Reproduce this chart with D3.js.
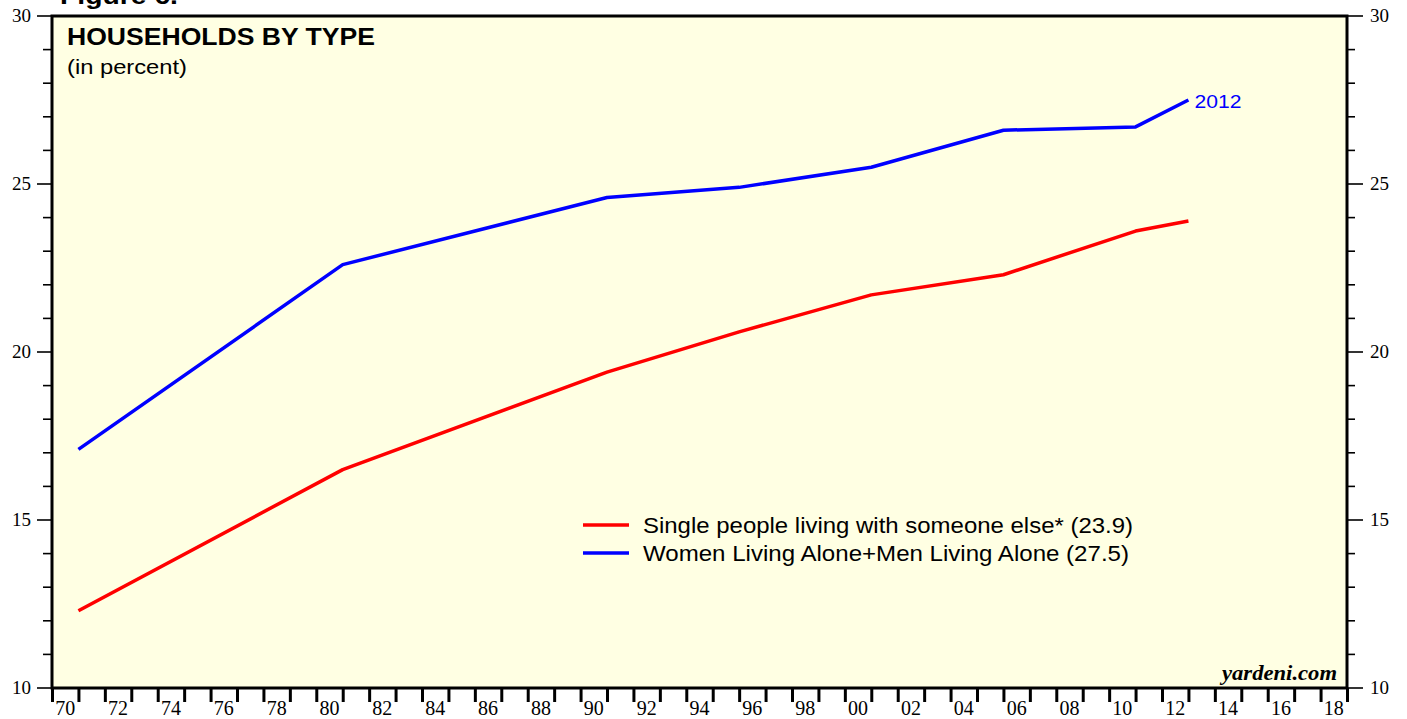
<!DOCTYPE html>
<html>
  <head>
    <meta charset="utf-8">
    <title>Households by Type</title>
    <script src="https://d3js.org/d3.v7.min.js"></script>
    <style>
      body { margin: 0; background: #fff; }
    </style>
  </head>
  <body>
    <div id="my_dataviz"></div>
    <script>
      // data (census years), values in percent
      var years = [1970, 1980, 1990, 1995, 2000, 2005, 2010, 2012];
      var singleWithOthers = [12.3, 16.5, 19.4, 20.6, 21.7, 22.3, 23.6, 23.9];
      var livingAlone = [17.1, 22.6, 24.6, 24.9, 25.5, 26.6, 26.7, 27.5];
      var yTicks = [10, 15, 20, 25, 30];
      var seriesNames = ["Single people living with someone else* (23.9)",
                         "Women Living Alone+Men Living Alone (27.5)"];
      var seriesColors = ["#ff0000", "#0000ff"];

      var W = 1407, H = 719;
      var plot = {left: 52, right: 1347, top: 16, bottom: 688};
      var sans = "Arial, 'Liberation Sans', sans-serif";
      var serif = "'Liberation Serif', 'Times New Roman', serif";

      var svg = d3.select("#my_dataviz")
        .append("svg")
        .attr("width", W)
        .attr("height", H);

      // year axis runs 1970..2019, annual data plotted at year-end
      var x = d3.scaleLinear().domain([1970, 2019]).range([plot.left, plot.right]);
      var y = d3.scaleLinear().domain([10, 30]).range([plot.bottom, plot.top]);

      // plot background
      svg.append("rect")
        .attr("x", plot.left).attr("y", plot.top)
        .attr("width", plot.right - plot.left).attr("height", plot.bottom - plot.top)
        .attr("fill", "#ffffe3");

      // sans text in the original is a bit wider than Arial, so stretch to width
      function sansText(tx, ty, size, weight, len, str, color) {
        return svg.append("text")
          .attr("x", tx).attr("y", ty)
          .attr("textLength", len)
          .attr("lengthAdjust", "spacingAndGlyphs")
          .attr("fill", color || "#000")
          .style("font-family", sans)
          .style("font-weight", weight)
          .style("font-size", size + "px")
          .text(str);
      }

      // cut-off figure caption at the very top
      sansText(60, 4, 23, "bold", 118, "Figure 6.");

      // left / right y axes: minor tick every 1, major every 5
      var minorY = d3.range(10, 30.01, 1);
      svg.append("g").selectAll("line")
        .data(minorY).enter().append("line")
        .attr("x1", function(d) { return d % 5 === 0 ? plot.left - 15 : plot.left - 9; })
        .attr("x2", plot.left)
        .attr("y1", function(d) { return y(d); })
        .attr("y2", function(d) { return y(d); })
        .attr("stroke", "#000").attr("stroke-width", 1.6);
      svg.append("g").selectAll("text")
        .data(yTicks).enter().append("text")
        .attr("x", 31)
        .attr("y", function(d) { return y(d) + 6; })
        .attr("text-anchor", "end")
        .style("font-family", serif)
        .style("font-size", "19px")
        .text(function(d) { return d; });

      svg.append("g").selectAll("line")
        .data(minorY).enter().append("line")
        .attr("x1", plot.right)
        .attr("x2", function(d) { return d % 5 === 0 ? plot.right + 16 : plot.right + 8; })
        .attr("y1", function(d) { return y(d); })
        .attr("y2", function(d) { return y(d); })
        .attr("stroke", "#000").attr("stroke-width", 1.6);
      svg.append("g").selectAll("text")
        .data(yTicks).enter().append("text")
        .attr("x", plot.right + 23)
        .attr("y", function(d) { return y(d) + 6; })
        .style("font-family", serif)
        .style("font-size", "19px")
        .text(function(d) { return d; });

      // bottom x axis: a tick every year, label every other year
      var xAxis = d3.axisBottom(x)
        .tickValues(d3.range(1970, 2019.5, 1))
        .tickSize(14)
        .tickFormat("");
      var gx = svg.append("g")
        .attr("transform", "translate(0," + plot.bottom + ")")
        .call(xAxis);
      gx.select(".domain").remove();
      gx.selectAll(".tick line").attr("stroke", "#000").attr("stroke-width", 3);

      var labelYears = d3.range(1970, 2019, 2);
      svg.append("g").selectAll("text")
        .data(labelYears).enter().append("text")
        .attr("x", function(d) { return x(d + 0.5); })
        .attr("y", 715)
        .attr("text-anchor", "middle")
        .style("font-family", serif)
        .style("font-size", "20px")
        .text(function(d) { return String(d % 100).padStart(2, "0"); });

      // lines
      var series = [singleWithOthers, livingAlone];
      var line = d3.line()
        .x(function(d, i) { return x(years[i] + 1); })
        .y(function(d) { return y(d); });

      series.forEach(function(vals, k) {
        svg.append("path")
          .datum(vals)
          .attr("d", line)
          .attr("fill", "none")
          .attr("stroke", seriesColors[k])
          .attr("stroke-width", 3.5)
          .attr("stroke-linejoin", "round");
      });

      // end label
      var last = years.length - 1;
      sansText(x(years[last] + 1) + 6, y(livingAlone[last]) + 8, 19, "normal", 47,
               String(years[last]), "#0000ff");

      // frame
      svg.append("rect")
        .attr("x", plot.left).attr("y", plot.top)
        .attr("width", plot.right - plot.left).attr("height", plot.bottom - plot.top)
        .attr("fill", "none")
        .attr("stroke", "#000")
        .attr("stroke-width", 3);

      // title
      sansText(67, 45, 23, "bold", 308, "HOUSEHOLDS BY TYPE");
      sansText(67, 74, 21, "normal", 120, "(in percent)");

      // legend
      var legendLens = [490, 486];
      seriesNames.forEach(function(name, k) {
        var ly = 525 + k * 28;
        svg.append("line")
          .attr("x1", 583).attr("x2", 629)
          .attr("y1", ly).attr("y2", ly)
          .attr("stroke", seriesColors[k])
          .attr("stroke-width", 3.5);
        sansText(643, ly + 8, 22, "normal", legendLens[k], name);
      });

      // watermark
      svg.append("text")
        .attr("x", 1337).attr("y", 680)
        .attr("text-anchor", "end")
        .attr("textLength", 115)
        .attr("lengthAdjust", "spacingAndGlyphs")
        .style("font-family", serif)
        .style("font-weight", "bold")
        .style("font-style", "italic")
        .style("font-size", "21px")
        .text("yardeni.com");
    </script>
  </body>
</html>
